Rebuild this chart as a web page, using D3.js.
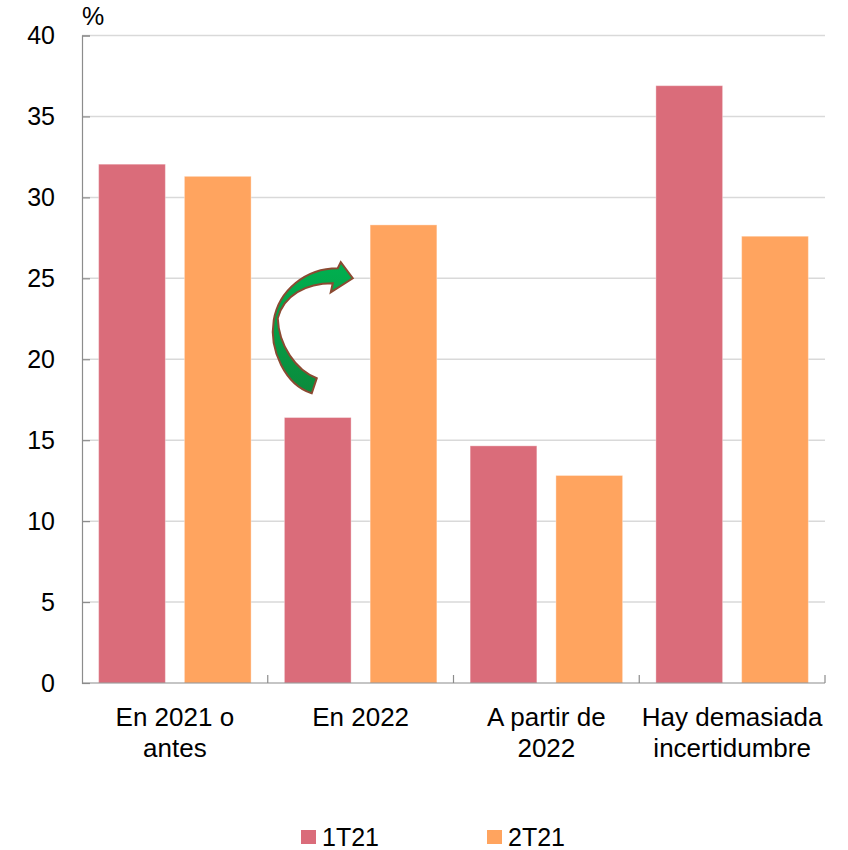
<!DOCTYPE html>
<html>
<head>
<meta charset="utf-8">
<script src="https://cdn.jsdelivr.net/npm/d3@7"></script>
<style>
  html, body { margin: 0; padding: 0; background: #fff; }
  svg { display: block; font-family: "Liberation Sans", Arial, Helvetica, sans-serif; }
</style>
</head>
<body>
<svg id="chart" width="848" height="850"></svg>
<script>
// Expected timing of the return to pre-crisis activity, share of firms (%)
const categories = [["En 2021 o", "antes"], ["En 2022"], ["A partir de", "2022"], ["Hay demasiada", "incertidumbre"]];
const seriesNames = ["1T21", "2T21"];
const values1T21 = [32.05, 16.4, 14.65, 36.9];
const values2T21 = [31.3, 28.3, 12.82, 27.6];
const yTicks = [0, 5, 10, 15, 20, 25, 30, 35, 40];
const colors = ["#DA6C7A", "#FFA45F"];

const FS = 25;
const svg = d3.select("#chart");
const margin = { left: 82, right: 23, top: 35.5, bottom: 167 };
const W = 848, H = 850;

const catKeys = categories.map(c => c.join(" "));
const x = d3.scaleBand().domain(catKeys).range([margin.left, W - margin.right]).padding(0);
const x1 = d3.scaleBand().domain(seriesNames).range([0, x.bandwidth()])
  .paddingInner(0.222).paddingOuter(0.194);
const y = d3.scaleLinear().domain([0, 40]).range([H - margin.bottom, margin.top]);

// Horizontal gridlines
svg.append("g").selectAll("line").data(yTicks.filter(d => d > 0)).join("line")
  .attr("x1", margin.left).attr("x2", W - margin.right)
  .attr("y1", d => y(d)).attr("y2", d => y(d))
  .attr("stroke", "#D9D9D9").attr("stroke-width", 1.5);

// Bars
const rows = catKeys.map((k, i) => ({ key: k, vals: [values1T21[i], values2T21[i]] }));
svg.append("g").selectAll("g").data(rows).join("g")
  .attr("transform", d => `translate(${x(d.key)},0)`)
  .selectAll("rect").data(d => d.vals.map((v, j) => ({ s: seriesNames[j], v, j }))).join("rect")
  .attr("x", d => x1(d.s)).attr("width", x1.bandwidth())
  .attr("y", d => y(d.v)).attr("height", d => y(0) - y(d.v))
  .attr("fill", d => colors[d.j])
  .attr("stroke", "rgba(255,255,255,0.35)").attr("stroke-width", 1);

// Y axis: ticks point into the plot
const yAxis = d3.axisLeft(y).tickValues(yTicks).tickSize(-8).tickPadding(27);
const gy = svg.append("g").attr("transform", `translate(${margin.left},0)`).call(yAxis);
gy.select(".domain").attr("stroke", "#8C8C8C").attr("stroke-width", 1.2);
gy.selectAll(".tick line").attr("stroke", "#8C8C8C").attr("stroke-width", 1.2);
gy.selectAll(".tick text").attr("font-size", FS).attr("fill", "#000")
  .attr("font-family", "'Liberation Sans', Arial, sans-serif");

// X axis baseline with category separators
svg.append("line")
  .attr("x1", margin.left).attr("x2", W - margin.right)
  .attr("y1", y(0)).attr("y2", y(0))
  .attr("stroke", "#8C8C8C").attr("stroke-width", 1.2);
const seps = catKeys.slice(1).map(k => x(k)).concat([W - margin.right]);
svg.append("g").selectAll("line").data(seps).join("line")
  .attr("x1", d => d).attr("x2", d => d)
  .attr("y1", y(0)).attr("y2", y(0) - 8)
  .attr("stroke", "#8C8C8C").attr("stroke-width", 1.2);

// Category labels (two lines where needed)
const lab = svg.append("g").selectAll("text").data(categories).join("text")
  .attr("text-anchor", "middle")
  .attr("font-size", 26).attr("fill", "#000")
  .attr("x", (d, i) => x(catKeys[i]) + x.bandwidth() / 2)
  .attr("y", y(0) + 43);
lab.selectAll("tspan").data(d => d).join("tspan")
  .attr("x", function () { return d3.select(this.parentNode).attr("x"); })
  .attr("dy", (d, i) => i === 0 ? 0 : 31)
  .text(d => d);

// Unit label
svg.append("text").attr("x", margin.left).attr("y", 25)
  .attr("font-size", FS).attr("fill", "#000").text("%");

// Curved arrow annotation: from the 1T21 to the 2T21 bar of "En 2022"
const defs = svg.append("defs");
const grad = defs.append("linearGradient").attr("id", "arrowFill")
  .attr("x1", 0).attr("y1", 0).attr("x2", 0).attr("y2", 1);
grad.append("stop").attr("offset", "0%").attr("stop-color", "#00B050");
grad.append("stop").attr("offset", "100%").attr("stop-color", "#0B8A3C");

const ax = x(catKeys[1]), ay = y(20);
const arrowPath = [
  "M", 44, 34,
  "C", 18, 26, 1, -9, 6, -39,
  "C", 11, -69, 38, -91, 70, -91,
  "L", 73, -97,
  "L", 85, -81,
  "L", 63, -67,
  "L", 65, -76,
  "C", 38, -76, 16, -64, 10, -41,
  "C", 11, -14, 28, 11, 49, 19,
  "Z"
].join(" ");
svg.append("path")
  .attr("transform", `translate(${ax},${ay})`)
  .attr("d", arrowPath)
  .attr("fill", "url(#arrowFill)")
  .attr("stroke", "#8B4A32").attr("stroke-width", 2).attr("stroke-linejoin", "miter");

// Legend
const legendX = [301, 487];
const lg = svg.append("g").selectAll("g").data(seriesNames).join("g")
  .attr("transform", (d, i) => `translate(${legendX[i]},830)`);
lg.append("rect").attr("width", 15).attr("height", 14).attr("fill", (d, i) => colors[i]);
lg.append("text").attr("x", 21).attr("y", 16).attr("font-size", FS).attr("fill", "#000").text(d => d);
</script>
</body>
</html>
